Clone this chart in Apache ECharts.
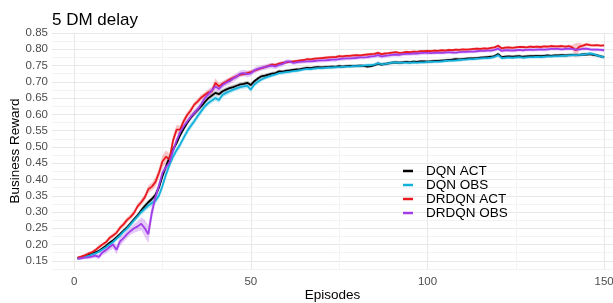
<!DOCTYPE html>
<html>
<head>
<meta charset="utf-8">
<script src="https://cdn.jsdelivr.net/npm/echarts@6/dist/echarts.min.js"></script>
<style>
  html, body { margin: 0; padding: 0; background: #fff; }
  #chart { width: 613px; height: 303px; }
</style>
</head>
<body>
<div id="chart"></div>
<script>
// episode numbers, 1..150
const episodes = Array.from({ length: 150 }, (_, i) => i + 1);

const seriesNames = ['DQN ACT', 'DQN OBS', 'DRDQN ACT', 'DRDQN OBS'];

// mean reward per episode
const dqnAct = [
  0.158, 0.160, 0.164, 0.168, 0.172, 0.176, 0.180, 0.188, 0.196, 0.205,
  0.213, 0.222, 0.232, 0.243, 0.253, 0.265, 0.278, 0.290, 0.305, 0.318,
  0.330, 0.340, 0.352, 0.375, 0.410, 0.440, 0.468, 0.492, 0.512, 0.536,
  0.556, 0.574, 0.590, 0.603, 0.614, 0.625, 0.638, 0.650, 0.658, 0.666,
  0.662, 0.671, 0.676, 0.681, 0.684, 0.688, 0.692, 0.694, 0.697, 0.690,
  0.702, 0.710, 0.717, 0.719, 0.722, 0.725, 0.727, 0.732, 0.731, 0.734,
  0.735, 0.737, 0.738, 0.739, 0.741, 0.743, 0.742, 0.744, 0.745, 0.744,
  0.745, 0.746, 0.747, 0.746, 0.748, 0.747, 0.748, 0.749, 0.748, 0.749,
  0.750, 0.749, 0.747, 0.748, 0.751, 0.756, 0.753, 0.755, 0.757, 0.759,
  0.760, 0.759, 0.760, 0.761, 0.760, 0.762, 0.761, 0.763, 0.763, 0.762,
  0.763, 0.764, 0.764, 0.765, 0.766, 0.767, 0.768, 0.770, 0.769, 0.770,
  0.771, 0.772, 0.772, 0.773, 0.774, 0.775, 0.776, 0.777, 0.779, 0.785,
  0.776, 0.777, 0.778, 0.777, 0.778, 0.779, 0.777, 0.778, 0.779, 0.779,
  0.780, 0.779, 0.780, 0.781, 0.780, 0.781, 0.781, 0.782, 0.781, 0.782,
  0.783, 0.782, 0.783, 0.784, 0.784, 0.785, 0.783, 0.781, 0.778, 0.776
];
const dqnObs = [
  0.157, 0.159, 0.162, 0.165, 0.169, 0.173, 0.178, 0.185, 0.192, 0.200,
  0.208, 0.218, 0.228, 0.240, 0.250, 0.262, 0.275, 0.287, 0.300, 0.310,
  0.320, 0.328, 0.335, 0.350, 0.380, 0.415, 0.445, 0.470, 0.490, 0.507,
  0.528, 0.548, 0.564, 0.579, 0.595, 0.610, 0.625, 0.635, 0.643, 0.650,
  0.644, 0.660, 0.666, 0.671, 0.676, 0.680, 0.684, 0.686, 0.688, 0.676,
  0.692, 0.700, 0.707, 0.712, 0.716, 0.720, 0.723, 0.727, 0.728, 0.730,
  0.731, 0.733, 0.734, 0.736, 0.738, 0.740, 0.739, 0.741, 0.742, 0.742,
  0.743, 0.744, 0.744, 0.745, 0.745, 0.746, 0.747, 0.747, 0.748, 0.748,
  0.749, 0.750, 0.751, 0.751, 0.753, 0.757, 0.754, 0.755, 0.757, 0.759,
  0.760, 0.758, 0.759, 0.759, 0.758, 0.760, 0.759, 0.760, 0.760, 0.761,
  0.761, 0.762, 0.762, 0.763, 0.764, 0.765, 0.765, 0.766, 0.767, 0.768,
  0.769, 0.770, 0.770, 0.771, 0.772, 0.773, 0.773, 0.774, 0.777, 0.782,
  0.773, 0.774, 0.775, 0.774, 0.775, 0.776, 0.774, 0.775, 0.776, 0.776,
  0.777, 0.776, 0.777, 0.778, 0.778, 0.779, 0.779, 0.780, 0.780, 0.781,
  0.782, 0.782, 0.783, 0.784, 0.785, 0.787, 0.785, 0.781, 0.778, 0.775
];
const drdqnAct = [
  0.160, 0.163, 0.167, 0.172, 0.176, 0.183, 0.192, 0.200, 0.207, 0.220,
  0.228, 0.236, 0.252, 0.262, 0.276, 0.285, 0.298, 0.318, 0.330, 0.345,
  0.370, 0.378, 0.392, 0.420, 0.455, 0.470, 0.462, 0.520, 0.553, 0.553,
  0.579, 0.598, 0.612, 0.630, 0.640, 0.652, 0.660, 0.668, 0.671, 0.697,
  0.686, 0.694, 0.700, 0.707, 0.712, 0.717, 0.722, 0.724, 0.727, 0.730,
  0.734, 0.738, 0.742, 0.745, 0.749, 0.753, 0.752, 0.756, 0.758, 0.760,
  0.761, 0.763, 0.764, 0.766, 0.767, 0.770, 0.769, 0.771, 0.772, 0.773,
  0.774, 0.775, 0.776, 0.776, 0.779, 0.778, 0.780, 0.780, 0.781, 0.782,
  0.781, 0.783, 0.784, 0.785, 0.786, 0.789, 0.785, 0.787, 0.788, 0.790,
  0.791, 0.789, 0.790, 0.792, 0.791, 0.793, 0.792, 0.794, 0.794, 0.795,
  0.794, 0.796, 0.795, 0.797, 0.796, 0.798, 0.797, 0.799, 0.798, 0.800,
  0.799, 0.800, 0.801, 0.802, 0.801, 0.803, 0.802, 0.804, 0.806, 0.811,
  0.803, 0.805, 0.806, 0.804, 0.806, 0.807, 0.807, 0.806, 0.808, 0.807,
  0.808, 0.807, 0.809, 0.808, 0.810, 0.809, 0.809, 0.810, 0.808, 0.810,
  0.806, 0.797, 0.808, 0.811, 0.815, 0.813, 0.812, 0.813, 0.811, 0.812
];
const drdqnObs = [
  0.157, 0.158, 0.160, 0.161, 0.163, 0.166, 0.162, 0.176, 0.183, 0.192,
  0.200, 0.184, 0.210, 0.220, 0.232, 0.242, 0.250, 0.256, 0.264, 0.250,
  0.232, 0.298, 0.345, 0.380, 0.420, 0.438, 0.452, 0.488, 0.520, 0.545,
  0.563, 0.578, 0.592, 0.605, 0.616, 0.632, 0.650, 0.662, 0.674, 0.686,
  0.678, 0.690, 0.697, 0.702, 0.710, 0.716, 0.725, 0.727, 0.724, 0.726,
  0.735, 0.740, 0.743, 0.745, 0.748, 0.750, 0.747, 0.752, 0.755, 0.762,
  0.763, 0.758, 0.760, 0.761, 0.762, 0.763, 0.763, 0.764, 0.765, 0.766,
  0.766, 0.767, 0.768, 0.768, 0.770, 0.771, 0.772, 0.772, 0.773, 0.774,
  0.775, 0.775, 0.776, 0.778, 0.779, 0.782, 0.778, 0.780, 0.781, 0.783,
  0.784, 0.783, 0.785, 0.786, 0.786, 0.787, 0.787, 0.788, 0.789, 0.789,
  0.788, 0.789, 0.790, 0.789, 0.790, 0.791, 0.790, 0.790, 0.791, 0.792,
  0.792, 0.793, 0.793, 0.794, 0.795, 0.795, 0.796, 0.796, 0.798, 0.802,
  0.795, 0.797, 0.797, 0.796, 0.797, 0.798, 0.797, 0.798, 0.799, 0.798,
  0.799, 0.800, 0.799, 0.800, 0.801, 0.801, 0.801, 0.800, 0.801, 0.802,
  0.801, 0.799, 0.800, 0.801, 0.802, 0.800, 0.799, 0.799, 0.798, 0.797
];

// half width of the shaded band, in thousandths
const dqnActSpread = [
  4, 4, 4, 5, 5, 5, 5, 5, 6, 6,
  6, 6, 6, 6, 7, 7, 7, 7, 8, 8,
  8, 8, 9, 10, 10, 10, 9, 9, 8, 8,
  8, 8, 8, 8, 8, 8, 7, 7, 7, 7,
  7, 7, 7, 7, 7, 6, 6, 6, 6, 7,
  6, 6, 6, 6, 6, 6, 6, 6, 5, 5,
  5, 5, 5, 5, 5, 5, 5, 5, 5, 5,
  5, 5, 5, 5, 5, 5, 5, 5, 5, 5,
  5, 5, 5, 5, 5, 6, 5, 5, 5, 5,
  5, 5, 5, 5, 5, 5, 5, 5, 5, 5,
  5, 5, 5, 5, 5, 5, 5, 5, 5, 5,
  5, 5, 5, 5, 5, 5, 5, 5, 5, 6,
  5, 5, 5, 5, 5, 5, 5, 5, 5, 5,
  5, 5, 5, 5, 5, 5, 5, 5, 5, 5,
  5, 5, 5, 5, 5, 5, 5, 5, 5, 5
];
const dqnObsSpread = [
  4, 4, 4, 5, 5, 5, 5, 5, 6, 6,
  6, 6, 7, 7, 7, 7, 8, 8, 8, 9,
  9, 10, 10, 11, 12, 12, 12, 11, 10, 10,
  10, 10, 10, 9, 9, 9, 9, 8, 8, 8,
  9, 8, 8, 8, 7, 7, 7, 7, 7, 8,
  7, 7, 6, 6, 6, 6, 6, 6, 6, 6,
  5, 5, 5, 5, 5, 5, 5, 5, 5, 5,
  5, 5, 5, 5, 5, 5, 5, 5, 5, 5,
  5, 5, 5, 5, 5, 6, 5, 5, 5, 5,
  5, 5, 5, 5, 5, 5, 5, 5, 5, 5,
  5, 5, 5, 5, 5, 5, 5, 5, 5, 5,
  5, 5, 5, 5, 5, 5, 5, 5, 5, 6,
  5, 5, 5, 5, 5, 5, 5, 5, 5, 5,
  5, 5, 5, 5, 5, 5, 5, 5, 5, 5,
  5, 5, 5, 5, 5, 5, 5, 5, 5, 5
];
const drdqnActSpread = [
  4, 4, 5, 5, 5, 6, 6, 6, 6, 7,
  7, 7, 8, 8, 8, 8, 9, 9, 10, 10,
  12, 12, 14, 16, 18, 20, 18, 16, 14, 12,
  10, 10, 10, 9, 9, 9, 9, 10, 12, 14,
  10, 8, 8, 7, 7, 7, 6, 6, 6, 6,
  5, 5, 5, 5, 5, 5, 5, 5, 5, 5,
  4, 4, 4, 4, 4, 4, 4, 4, 4, 4,
  4, 4, 4, 4, 4, 4, 4, 4, 4, 4,
  4, 4, 4, 4, 4, 5, 4, 4, 4, 4,
  4, 4, 4, 4, 4, 4, 4, 4, 4, 4,
  4, 4, 4, 4, 4, 4, 4, 4, 4, 4,
  4, 4, 4, 4, 4, 4, 4, 4, 4, 5,
  4, 4, 4, 4, 4, 4, 4, 4, 4, 4,
  4, 4, 4, 4, 4, 4, 4, 4, 4, 4,
  8, 22, 12, 6, 5, 5, 4, 4, 4, 4
];
const drdqnObsSpread = [
  4, 4, 5, 5, 6, 7, 8, 9, 10, 12,
  12, 14, 14, 12, 12, 12, 14, 16, 20, 26,
  28, 24, 18, 14, 12, 12, 11, 11, 10, 10,
  10, 10, 10, 10, 10, 10, 10, 10, 10, 10,
  10, 10, 10, 10, 10, 10, 10, 10, 10, 9,
  9, 9, 8, 8, 8, 8, 8, 8, 8, 7,
  6, 6, 6, 6, 6, 6, 6, 6, 6, 6,
  6, 6, 6, 6, 6, 6, 6, 6, 6, 6,
  6, 6, 6, 6, 6, 7, 6, 6, 6, 6,
  6, 6, 6, 6, 6, 6, 6, 6, 6, 6,
  5, 5, 5, 5, 5, 5, 5, 5, 5, 5,
  5, 5, 5, 5, 5, 5, 5, 5, 5, 6,
  5, 5, 5, 5, 5, 5, 5, 5, 5, 5,
  5, 5, 5, 5, 5, 5, 5, 5, 5, 5,
  5, 5, 5, 5, 5, 5, 5, 5, 5, 5
];

const xTickLabels = [0, 50, 100, 150];
const yTickLabels = [0.15, 0.20, 0.25, 0.30, 0.35, 0.40, 0.45, 0.50, 0.55, 0.60, 0.65, 0.70, 0.75, 0.80, 0.85];

const means = [dqnAct, dqnObs, drdqnAct, drdqnObs];
const spreads = [dqnActSpread, dqnObsSpread, drdqnActSpread, drdqnObsSpread];
const lineColors = ['#000000', '#14b1dc', '#e8191f', '#a03ce8'];
const bandColors = ['rgba(0,0,0,0.22)', 'rgba(20,177,220,0.3)', 'rgba(232,25,31,0.25)', 'rgba(160,60,232,0.28)'];

const FONT = 'Liberation Sans';

const chart = echarts.init(document.getElementById('chart'), null, { renderer: 'canvas' });

const bandSeries = means.map((m, k) => ({
    type: 'custom',
    name: seriesNames[k] + ' band',
    silent: true,
    clip: true,
    z: 1,
    data: episodes.map((e, i) => [e, m[i] - spreads[k][i] / 1000, m[i] + spreads[k][i] / 1000]),
    renderItem(params, api) {
        if (params.dataIndex !== 0) return;
        const top = [];
        const bottom = [];
        episodes.forEach((e, i) => {
            top.push(api.coord([e, m[i] + spreads[k][i] / 1000]));
            bottom.push(api.coord([e, m[i] - spreads[k][i] / 1000]));
        });
        return {
            type: 'polygon',
            shape: { points: top.concat(bottom.reverse()) },
            style: { fill: bandColors[k] },
        };
    },
}));

const lineSeries = means.map((m, k) => ({
    type: 'line',
    name: seriesNames[k],
    z: 2,
    showSymbol: false,
    symbol: 'none',
    color: lineColors[k],
    lineStyle: { color: lineColors[k], width: 1.8 },
    data: episodes.map((e, i) => [e, m[i]]),
}));

chart.setOption({
    animation: false,
    backgroundColor: '#ffffff',
    title: {
        text: '5 DM delay',
        left: 47,
        top: 7,
        textStyle: { fontFamily: FONT, fontSize: 17, fontWeight: 'normal', color: '#000' },
    },
    legend: {
        orient: 'vertical',
        left: 398,
        top: 159,
        icon: 'rect',
        itemWidth: 10,
        itemHeight: 2.5,
        itemGap: 0,
        data: seriesNames,
        textStyle: { fontFamily: FONT, fontSize: 13.5, color: '#000', lineHeight: 14, padding: [0, 0, 0, 8] },
    },
    grid: { left: 52, right: 0, top: 33, bottom: 34, outerBoundsMode: 'none', containLabel: false },
    xAxis: {
        type: 'value',
        min: -6.25,
        max: 152.5,
        interval: 6.25,
        name: 'Episodes',
        nameLocation: 'middle',
        nameGap: 19,
        nameMoveOverlap: false,
        nameTextStyle: { fontFamily: FONT, fontSize: 13.5, color: '#000' },
        axisLine: { show: false },
        axisTick: { show: false },
        axisLabel: {
            margin: 7,
            fontFamily: FONT,
            fontSize: 11.5,
            color: '#4d4d4d',
            showMinLabel: true,
            showMaxLabel: true,
            hideOverlap: false,
            formatter: (v) => (xTickLabels.includes(Math.round(v * 100) / 100) ? String(v) : ''),
        },
        splitLine: {
            show: true,
            // one colour per tick, every 6.25 episodes, starting at -6.25
            lineStyle: {
                width: 1,
                color: ['rgba(0,0,0,0)', '#e8e8e8', 'rgba(0,0,0,0)', 'rgba(0,0,0,0)',
                        'rgba(0,0,0,0)', '#f3f3f3', 'rgba(0,0,0,0)', 'rgba(0,0,0,0)'],
            },
        },
    },
    yAxis: {
        type: 'value',
        min: 0.125,
        max: 0.85,
        interval: 0.025,
        name: 'Business Reward',
        nameLocation: 'middle',
        nameGap: 30,
        nameMoveOverlap: false,
        nameTextStyle: { fontFamily: FONT, fontSize: 13.5, color: '#000' },
        axisLine: { show: false },
        axisTick: { show: false },
        axisLabel: {
            margin: 4,
            fontFamily: FONT,
            fontSize: 11.5,
            color: '#4d4d4d',
            formatter: (v) => {
                const r = Math.round(v * 1000) / 1000;
                return yTickLabels.some((t) => Math.abs(t - r) < 1e-6) ? r.toFixed(2) : '';
            },
        },
        splitLine: {
            show: true,
            lineStyle: { width: 1, color: ['#f3f3f3', '#e8e8e8'] },
        },
    },
    series: bandSeries.concat(lineSeries),
});
</script>
</body>
</html>
